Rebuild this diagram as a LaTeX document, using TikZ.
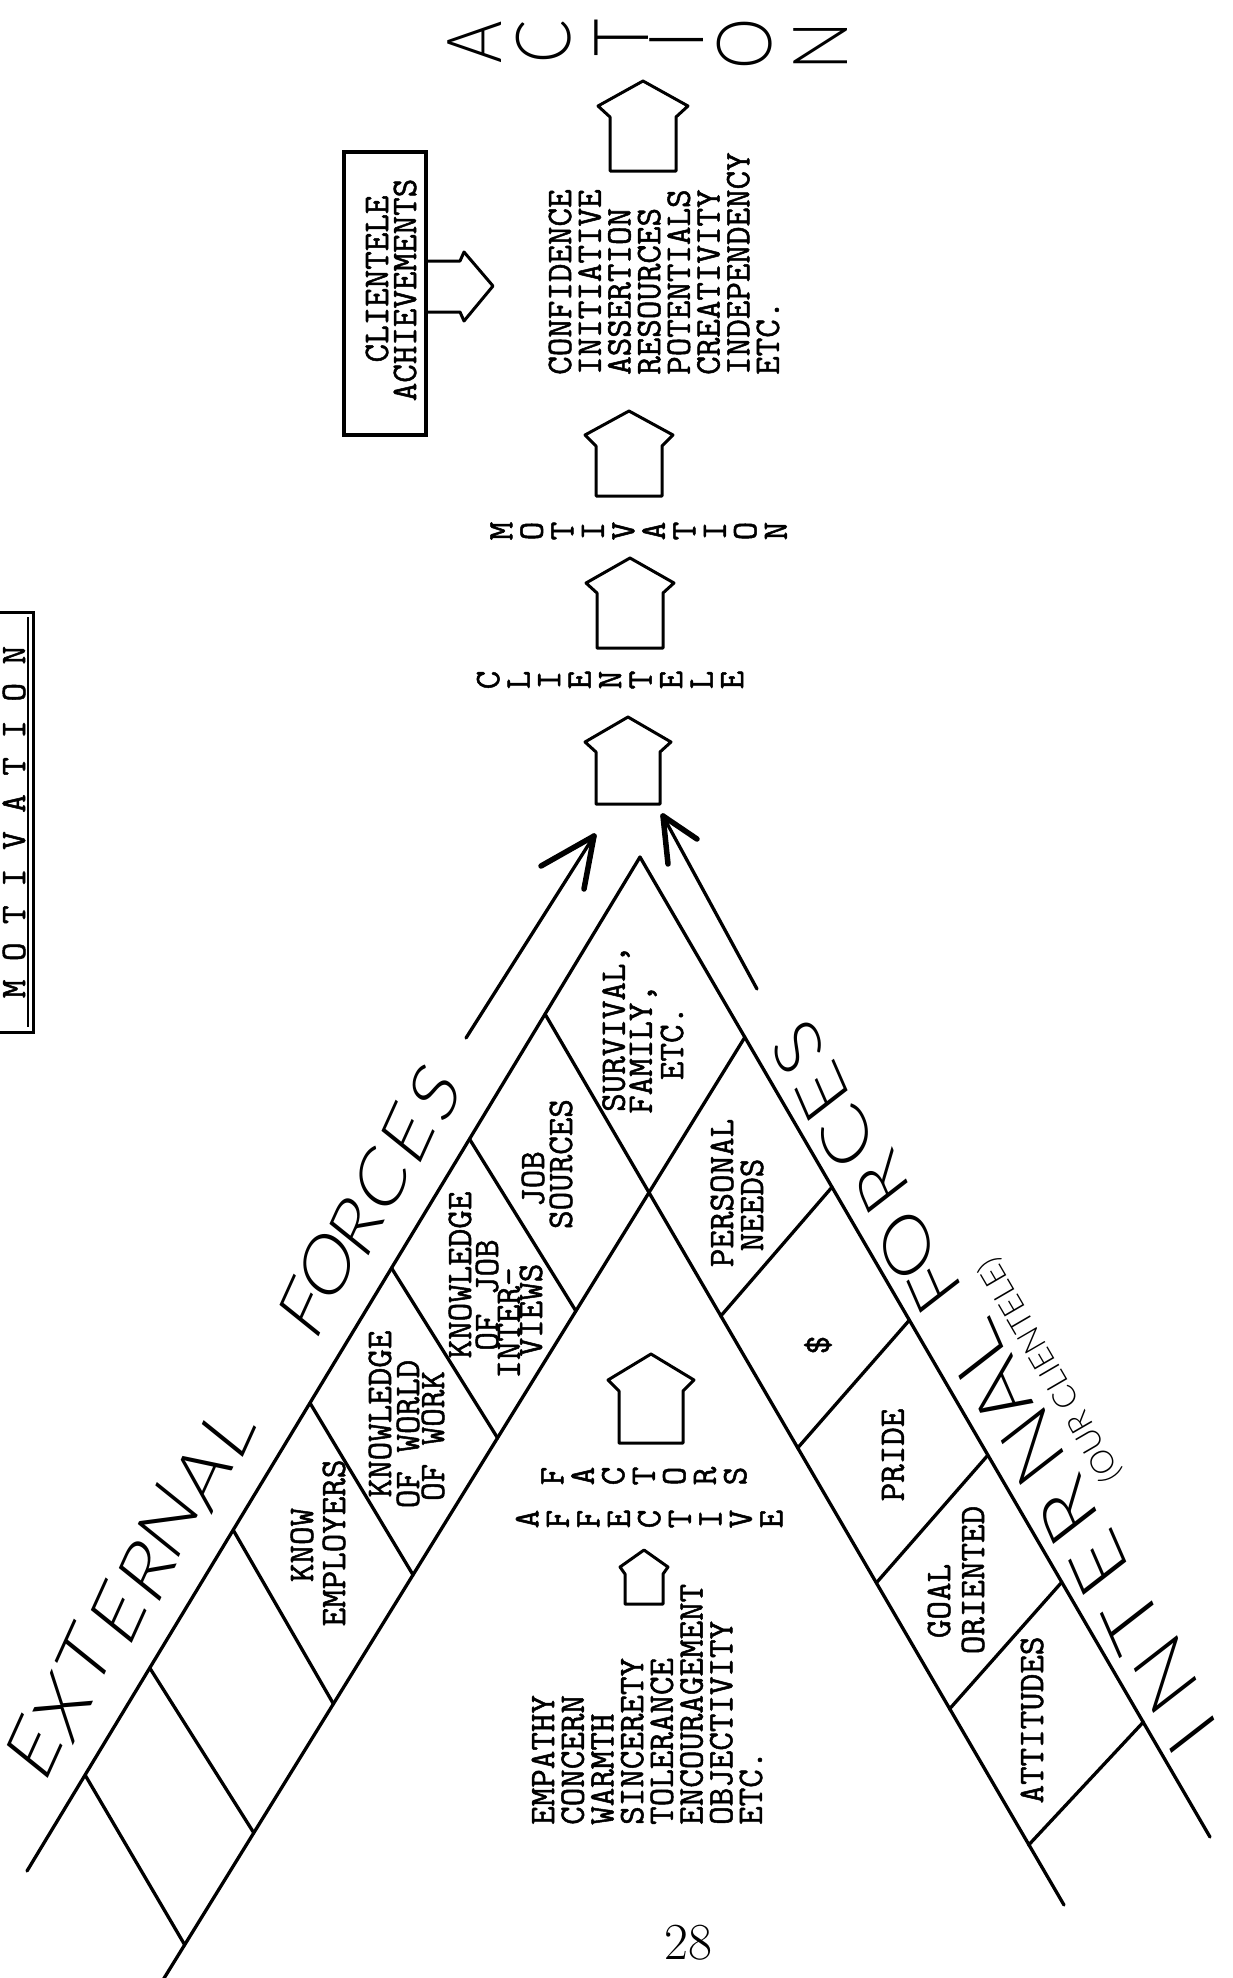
\documentclass[tikz,border=0pt]{standalone}
\usepackage{fontspec}
\usetikzlibrary{calc}
\IfFontExistsTF{Lato Light}{\newfontfamily\handfam{Lato Light}}{%
 \IfFontExistsTF{Open Sans Light}{\newfontfamily\handfam{Open Sans Light}}{%
  \IfFontExistsTF{DejaVu Sans ExtraLight}{\newfontfamily\handfam{DejaVu Sans ExtraLight}}{%
   \newcommand\handfam{\sffamily}}}}
\IfFontExistsTF{Latin Modern Mono}{\newfontfamily\typefam{Latin Modern Mono}[FakeBold=1.4]}{\newcommand\typefam{\ttfamily}}
\newcommand\twfont{\typefam\fontsize{36}{29.7}\selectfont}
\newcommand\stackfont{\typefam\fontsize{36}{30.5}\selectfont}
\newcommand\handfont{\handfam\fontsize{90}{90}\selectfont}
\newcommand\intfont{\handfam\fontsize{94}{94}\selectfont}
\newcommand\forcefont{\handfam\fontsize{86}{86}\selectfont}
\newcommand\actfont{\handfam\fontsize{76}{76}\selectfont}
\newcommand\smallhand{\handfam\fontsize{32}{32}\selectfont}
\newcommand\drawhouse[7]{\begin{scope}[shift={(#1,#2)}]\draw[housestyle] (0,0) -- (#3,#4) -- (#5,#6) -- (#5,#7) -- (-#5,#7) -- (-#5,#6) -- (-#3,#4) -- cycle;\end{scope}}
\begin{document}
\begin{tikzpicture}[x=1pt,y=-1pt,
  ln/.style={line width=3.3pt, line cap=round, line join=round},
  housestyle/.style={line width=3pt, line join=round},
  tx/.style={font=\twfont, rotate=90, inner sep=0pt},
  hand/.style={font=\handfont, inner sep=0pt, xscale=0.75},
  barb/.style={line width=5.5pt, line cap=round}]
\useasboundingbox (0,0) rectangle (1233,1978);
\fill[white] (0,0) rectangle (1233,1978);
\clip (0,0) rectangle (1233,1978);

% title box
\draw[line width=3pt] (-10,612) rectangle (33,1032);
\draw[line width=2pt] (28,617) -- (28,1027);
\node[tx] (title) at (14,822) {M O T I V A T I O N};

% ACTION
\foreach \c/\x/\y [count=\i] in {A/475/42, C/544/42, T/622/38, I/677/40, O/745/44, N/821/46}
  \node[font=\actfont, inner sep=0pt, rotate=90, xscale=0.85] (act\i) at (\x,\y) {\c};

% houses
\drawhouse{643}{81}{45}{25}{33}{36}{90}
\drawhouse{629}{411}{44}{24}{33}{35}{85}
\drawhouse{630}{558}{44}{25}{33}{35}{90}
\drawhouse{628}{717}{43}{25}{32}{35}{87}
\drawhouse{651}{1354}{43}{26}{32}{37}{89}
\drawhouse{644}{1550}{24}{17}{19}{24}{54}

% clientele achievements
\draw[line width=3.5pt] (344,152) rectangle (426,435);
\node[tx] (cl1) at (377,279) {CLIENTELE};
\node[tx] (cl2) at (405,290) {ACHIEVEMENTS};
\draw[housestyle] (426,261) -- (460,261) -- (464,252) -- (493,286) -- (464,321) -- (460,312) -- (426,312);

% lists
\node[tx, anchor=west, align=left] (conf) at (664,375) {CONFIDENCE\\INITIATIVE\\ASSERTION\\RESOURCES\\POTENTIALS\\CREATIVITY\\INDEPENDENCY\\ETC.};
\node[tx, anchor=west, align=left] (emp) at (647,1825) {EMPATHY\\CONCERN\\WARMTH\\SINCERETY\\TOLERANCE\\ENCOURAGEMENT\\OBJECTIVITY\\ETC.};

% stacked words
\node[tx, font=\stackfont, align=center] (stackmot) at (638.5,531) {M\\O\\T\\I\\V\\A\\T\\I\\O\\N};
\node[tx, font=\stackfont, align=center] (stackcli) at (610,680) {C\\L\\I\\E\\N\\T\\E\\L\\E};
\node[tx, font=\stackfont, align=center] (stackaff) at (649,1519) {A\\F\\F\\E\\C\\T\\I\\V\\E};
\node[tx, font=\stackfont, align=center] (stackfac) at (644,1476) {F\\A\\C\\T\\O\\R\\S};

% V structure
\coordinate (apex) at (640,857);
\coordinate (Bend) at (27,1871);
\coordinate (Cs) at (745,1037);
\coordinate (Ce) at (158,1988);
\coordinate (Ee) at (1210,1837);
\coordinate (Ds) at (545,1014);
\coordinate (De) at (1064,1905);
\draw[ln] (apex) -- (Bend);
\draw[ln] (apex) -- (Ee);
\draw[ln] (Cs) -- (Ce);
\draw[ln] (Ds) -- (De);
\foreach \a/\b/\c/\d [count=\i] in {469.5/1139/575.9/1311, 391.5/1268/497.6/1438, 310/1403/413.1/1575, 233.2/1530/333.5/1704, 149.8/1668/253.9/1833, 85.1/1775/184.8/1945}
  {\coordinate (L\i a) at (\a,\b); \coordinate (L\i b) at (\c,\d); \draw[ln] (L\i a) -- (L\i b);}
\foreach \a/\b/\c/\d [count=\i] in {832.1/1187/720.8/1316, 909.5/1320/797.6/1448, 988/1455/876.2/1583, 1061.9/1582/949.5/1709, 1143.4/1722/1028.6/1845}
  {\coordinate (R\i a) at (\a,\b); \coordinate (R\i b) at (\c,\d); \draw[ln] (R\i a) -- (R\i b);}

% arrows
\coordinate (la0) at (466,1038); \coordinate (la1) at (594,836);
\coordinate (la2) at (541,866); \coordinate (la3) at (584,889);
\draw[ln] (la0) -- (la1);
\draw[barb] (la1) -- (la2); \draw[barb] (la1) -- (la3);
\coordinate (ra0) at (757,989); \coordinate (ra1) at (663,816);
\coordinate (ra2) at (697,839); \coordinate (ra3) at (668,864);
\draw[ln] (ra0) -- (ra1);
\draw[barb] (ra1) -- (ra2); \draw[barb] (ra1) -- (ra3);

% cell texts
\node[tx] (kn1) at (302,1545) {KNOW};
\node[tx] (kn2) at (334,1543) {EMPLOYERS};
\node[tx] (kw1) at (380,1414) {KNOWLEDGE};
\node[tx] (kw2) at (408,1434) {OF WORLD};
\node[tx] (kw3) at (433,1436) {OF WORK};
\node[tx] (kj1) at (460,1275) {KNOWLEDGE};
\node[tx] (kj2) at (487,1295) {OF JOB};
\node[tx] (kj3) at (509,1323) {INTER-};
\node[tx] (kj4) at (531,1310) {VIEWS};
\node[tx] (js1) at (533,1179) {JOB};
\node[tx] (js2) at (561,1164) {SOURCES};
\node[tx, anchor=west] (sv1) at (616,1112) {SURVIVAL,};
\node[tx, anchor=west] (sv2) at (643,1114) {FAMILY,};
\node[tx] (sv3) at (672,1043) {ETC.};
\node[tx] (pn1) at (722,1193) {PERSONAL};
\node[tx] (pn2) at (752,1205) {NEEDS};
\node[tx] (dol) at (818,1345) {\$};
\node[tx] (pr) at (893,1455) {PRIDE};
\node[tx] (go1) at (939,1601) {GOAL};
\node[tx] (go2) at (973,1580) {ORIENTED};
\node[tx] (att) at (1032,1720) {ATTITUDES};

% handwritten labels
\foreach \c/\x/\y [count=\i] in {E/34/1748, X/63/1707, T/85/1657, E/118/1613, R/147/1570, N/168/1520, A/203/1475, L/228/1430}
  \node[hand, rotate=58.85] (ext\i) at (\x,\y) {\c};
\foreach \c/\x/\y [count=\i] in {F/305/1308, O/327/1265, R/356/1225, C/381/1180, E/408/1133, S/435/1092}
  \node[hand, font=\forcefont, rotate=58.85] (lf\i) at (\x,\y) {\c};
\foreach \c/\x/\y [count=\i] in {I/1192/1735, N/1166/1675, T/1132/1620, E/1099/1564, R/1068/1512, N/1033/1447, A/1001/1395, L/977/1352}
  \node[hand, font=\intfont, rotate=120.2] (int\i) at (\x,\y) {\c};
\foreach \c/\x/\y [count=\i] in {F/935/1285, O/907/1245, R/882/1183, C/847/1138, E/822/1092, S/798/1048}
  \node[hand, font=\forcefont, rotate=120.2] (rf\i) at (\x,\y) {\c};
\node[font=\smallhand, inner sep=0pt, rotate=120.2] (ourcl) at (1050,1370) {(OUR CLIENTELE)};

% page number
\node[font=\rmfamily\fontsize{52}{52}\selectfont, inner sep=0pt] (pg) at (688,1943) {28};
\end{tikzpicture}
\end{document}
